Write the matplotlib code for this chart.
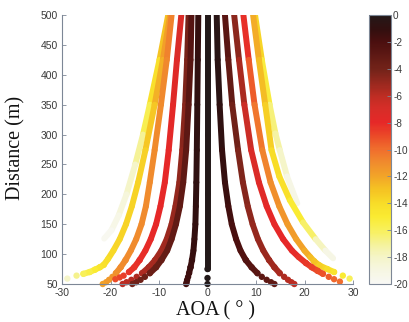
import matplotlib
matplotlib.use("Agg")
import matplotlib.pyplot as plt
import numpy as np
from matplotlib.collections import LineCollection
from matplotlib.colors import Normalize, LinearSegmentedColormap

plt.rcParams['font.family'] = ['Liberation Sans', 'DejaVu Sans']
plt.rcParams['axes.unicode_minus'] = False

# each trace: distance (m), AOA (deg), received power (dB)
c_dist = [500, 400, 300, 200, 150, 100, 75, 60, 50]
c_aoa = [0, 0, 0, 0, 0, 0, 0, 0, 0]
c_db = [0, 0, 0, 0, 0, 0, 0, 0, 0]

lf_dist = [500, 425, 350, 274, 220, 180, 150, 125, 106, 90, 78, 68, 62, 57, 53, 50]
lf_aoa = [-1.9, -2.0, -2.1, -2.2, -2.3, -2.4, -2.5, -2.7, -2.9, -3.2, -3.5, -3.8, -4.0, -4.2, -4.3, -4.4]
lf_db = [-1.2, -1.0, -0.9, -0.8, -0.8, -0.9, -1.0, -1.1, -1.2, -1.3, -1.4, -1.5, -1.5, -1.6, -1.6, -1.7]

le_dist = [500, 425, 350, 274, 220, 180, 150, 125, 106, 90, 78, 68, 62, 57, 53, 50]
le_aoa = [-3.3, -3.5, -3.9, -4.4, -5.0, -5.7, -6.5, -7.4, -8.3, -9.5, -10.6, -11.9, -12.9, -13.8, -14.7, -15.5]
le_db = [-2.5, -2.6, -2.8, -3.0, -3.0, -3.0, -3.1, -3.2, -3.3, -3.4, -3.5, -3.6, -3.7, -3.8, -3.9, -4.0]

ld_dist = [500, 425, 350, 274, 220, 180, 150, 125, 106, 90, 78, 68, 62, 57, 53, 50]
ld_aoa = [-3.9, -4.2, -4.6, -5.2, -5.8, -6.6, -7.4, -8.4, -9.5, -10.8, -12.1, -13.5, -14.6, -15.7, -16.7, -17.5]
ld_db = [-4.0, -4.2, -4.5, -4.8, -5.0, -5.0, -5.1, -5.2, -5.3, -5.4, -5.5, -5.6, -5.7, -5.8, -5.9, -6.0]

lc_dist = [500, 425, 350, 274, 220, 180, 150, 125, 106, 90, 78, 70, 64, 61, 58]
lc_aoa = [-5.4, -6.3, -7.1, -8.0, -8.8, -9.7, -10.6, -11.7, -12.8, -14.0, -15.1, -16.2, -17.3, -18.1, -19.0]
lc_db = [-7.0, -7.4, -7.7, -8.0, -8.0, -8.0, -8.0, -8.0, -8.1, -8.2, -8.3, -8.4, -8.6, -8.8, -9.0]

lb2_dist = [500, 425, 350, 274, 220, 180, 150, 125, 106, 90, 78, 68, 62, 57, 53, 50]
lb2_aoa = [-7.4, -8.4, -9.6, -10.9, -11.9, -12.7, -13.6, -14.7, -15.8, -16.9, -17.9, -18.9, -19.6, -20.3, -20.9, -21.6]
lb2_db = [-10.5, -10.8, -11.0, -11.0, -11.0, -11.0, -11.0, -11.0, -11.0, -11.0, -11.0, -11.2, -11.3, -11.5, -11.6, -11.8]

lb_dist = [500, 425, 350, 274, 220, 180, 150, 125, 106, 92, 82, 78, 74, 70, 67, 64, 59]
lb_aoa = [-7.7, -9.2, -10.9, -12.8, -14.3, -15.6, -16.8, -18.1, -19.4, -20.5, -21.4, -22.2, -23.2, -24.3, -25.6, -27.0, -28.9]
lb_db = [-11.5, -12.0, -12.8, -13.5, -13.6, -13.6, -13.6, -13.7, -13.8, -14.0, -14.3, -14.6, -15.0, -15.5, -16.0, -16.8, -18.0]

la_dist = [500, 425, 350, 300, 250, 200, 165, 140, 126]
la_aoa = [-8.1, -9.9, -11.9, -13.3, -14.9, -16.7, -18.3, -19.8, -21.3]
la_db = [-12.5, -13.5, -15.0, -16.5, -17.5, -18.5, -19.0, -19.5, -19.9]

r1_dist = [500, 425, 350, 274, 220, 180, 150, 125, 106, 90, 78, 68, 62, 57, 53, 50]
r1_aoa = [1.9, 2.1, 2.5, 3.0, 3.6, 4.3, 5.0, 5.9, 6.8, 7.9, 9.1, 10.3, 11.2, 12.2, 13.1, 13.8]
r1_db = [-0.4, -0.5, -0.7, -1.0, -1.2, -1.5, -1.8, -2.0, -2.2, -2.4, -2.6, -2.8, -2.9, -3.0, -3.1, -3.2]

r2_dist = [500, 425, 350, 274, 220, 180, 150, 125, 106, 90, 78, 68, 62, 57, 53, 50]
r2_aoa = [3.6, 4.3, 5.1, 6.3, 7.3, 8.3, 9.3, 10.4, 11.5, 12.7, 13.8, 14.9, 15.8, 16.6, 17.3, 17.9]
r2_db = [-2.5, -3.0, -3.5, -4.2, -4.5, -4.7, -4.9, -5.0, -5.1, -5.2, -5.3, -5.5, -5.6, -5.8, -5.9, -6.0]

r3_dist = [500, 425, 350, 274, 220, 180, 150, 125, 106, 95, 85, 78, 72, 67, 62, 58, 54]
r3_aoa = [5.5, 6.5, 7.6, 9.0, 10.6, 12.2, 13.8, 15.6, 17.4, 18.8, 20.3, 21.5, 22.7, 23.8, 25.0, 26.1, 27.3]
r3_db = [-4.5, -5.0, -6.0, -7.0, -7.5, -7.8, -8.0, -8.0, -8.0, -8.2, -8.5, -8.7, -9.0, -9.2, -9.5, -9.8, -10.0]

r4_dist = [500, 425, 350, 274, 220, 180, 150, 125, 106, 95, 88, 81, 75, 70, 64, 59]
r4_aoa = [7.4, 8.5, 9.7, 11.3, 13.0, 14.8, 16.5, 18.3, 20.0, 21.2, 22.0, 23.1, 24.7, 26.1, 27.9, 29.3]
r4_db = [-7.5, -9.0, -10.0, -10.5, -11.0, -11.2, -11.5, -11.7, -12.0, -12.5, -13.0, -13.5, -14.0, -14.5, -15.0, -16.0]

r5_dist = [500, 425, 350, 274, 230, 190, 153, 125, 106, 93]
r5_aoa = [9.4, 10.6, 11.9, 13.2, 14.8, 17.0, 19.7, 22.3, 24.3, 25.9]
r5_db = [-12.0, -12.5, -13.0, -14.0, -14.0, -14.5, -15.5, -17.0, -18.5, -19.8]

r6_dist = [500, 425, 350, 302, 274, 230, 185]
r6_aoa = [9.8, 11.2, 12.8, 14.0, 14.9, 16.4, 18.5]
r6_db = [-13.0, -14.5, -16.0, -17.0, -17.5, -18.5, -19.8]

# drawn outer first so the dark inner traces sit on top
curves = [
    (la_dist, la_aoa, la_db), (r6_dist, r6_aoa, r6_db),
    (lb_dist, lb_aoa, lb_db), (r5_dist, r5_aoa, r5_db),
    (lb2_dist, lb2_aoa, lb2_db), (r4_dist, r4_aoa, r4_db),
    (lc_dist, lc_aoa, lc_db), (r3_dist, r3_aoa, r3_db),
    (ld_dist, ld_aoa, ld_db), (le_dist, le_aoa, le_db),
    (r2_dist, r2_aoa, r2_db), (lf_dist, lf_aoa, lf_db),
    (r1_dist, r1_aoa, r1_db), (c_dist, c_aoa, c_db),
]

db_min, db_max = -20, 0
cb_ticks = [0, -2, -4, -6, -8, -10, -12, -14, -16, -18, -20]
x_ticks = [-30, -20, -10, 0, 10, 20, 30]
y_ticks = [50, 100, 150, 200, 250, 300, 350, 400, 450, 500]

# colour bar as it looks in the figure, 1 dB steps from -20 (white) to 0 (black)
cmap_colors = ['#f8f8f5', '#f6f6e1', '#f5f5c8', '#f5f296', '#f8f05a', '#faeb32',
               '#f8dc28', '#f5c323', '#f2a528', '#f08c2d', '#f06e2d', '#eb4b28',
               '#e62828', '#d72d28', '#be2d23', '#96281e', '#732319', '#5f1914',
               '#4b0f0f', '#320f0f', '#231919']
cmap = LinearSegmentedColormap.from_list('ref_hot', cmap_colors)

axis_col = '#7d8796'
text_col = '#3a3a3a'

fig = plt.figure(figsize=(4.09, 3.22), dpi=100)
ax = fig.add_axes([62 / 409, 38 / 322, 291 / 409, 269 / 322])
norm = Normalize(vmin=db_min, vmax=db_max)

for i, (dist, aoa, db) in enumerate(curves):
    d = np.array(dist, float)
    a = np.array(aoa, float)
    p = np.array(db, float)
    z = 2 + i * 0.01
    # continuous strand where the dots overlap
    keep = d >= 66
    pts = np.column_stack([a[keep], d[keep]])
    segs = np.stack([pts[:-1], pts[1:]], axis=1)
    seg_db = (p[keep][:-1] + p[keep][1:]) / 2
    lc = LineCollection(segs, colors=cmap(norm(seg_db)), linewidths=4.3,
                        capstyle='round', joinstyle='round', zorder=z)
    ax.add_collection(lc)
    # separate dots near the bottom
    low = d <= 90
    if low.any():
        ax.scatter(a[low], d[low], c=p[low], cmap=cmap, norm=norm, s=21,
                   linewidths=0, clip_on=False, zorder=z + 0.005)

ax.set_xlim(-30, 30)
ax.set_ylim(50, 500)
ax.set_xticks(x_ticks)
ax.set_yticks(y_ticks)
for s in ['top', 'right']:
    ax.spines[s].set_visible(False)
for s in ['left', 'bottom']:
    ax.spines[s].set_color(axis_col)
    ax.spines[s].set_linewidth(0.8)
ax.tick_params(direction='in', length=3, width=0.6, color=axis_col,
               labelsize=7.5, labelcolor=text_col, pad=3)

cax = fig.add_axes([369 / 409, 38 / 322, 22 / 409, 269 / 322])
sm = plt.cm.ScalarMappable(norm=norm, cmap=cmap)
cb = fig.colorbar(sm, cax=cax, ticks=cb_ticks)
cb.outline.set_edgecolor(axis_col)
cb.outline.set_linewidth(0.8)
cax.tick_params(direction='in', length=3, width=0.6, color=axis_col,
                labelsize=7.2, labelcolor=text_col, pad=1.5)

fig.text(16 / 409, 1 - 148 / 322, 'Distance (m)', rotation=90, ha='center', va='center',
         family=['Liberation Serif', 'DejaVu Serif'], fontsize=14.5, color='#111111')
fig.text(215 / 409, 1 - 311 / 322, 'AOA ( \u00b0 )', ha='center', va='center',
         family=['Liberation Serif', 'DejaVu Serif'], fontsize=14.5, color='#111111')

fig.savefig('out.png', dpi=100)
